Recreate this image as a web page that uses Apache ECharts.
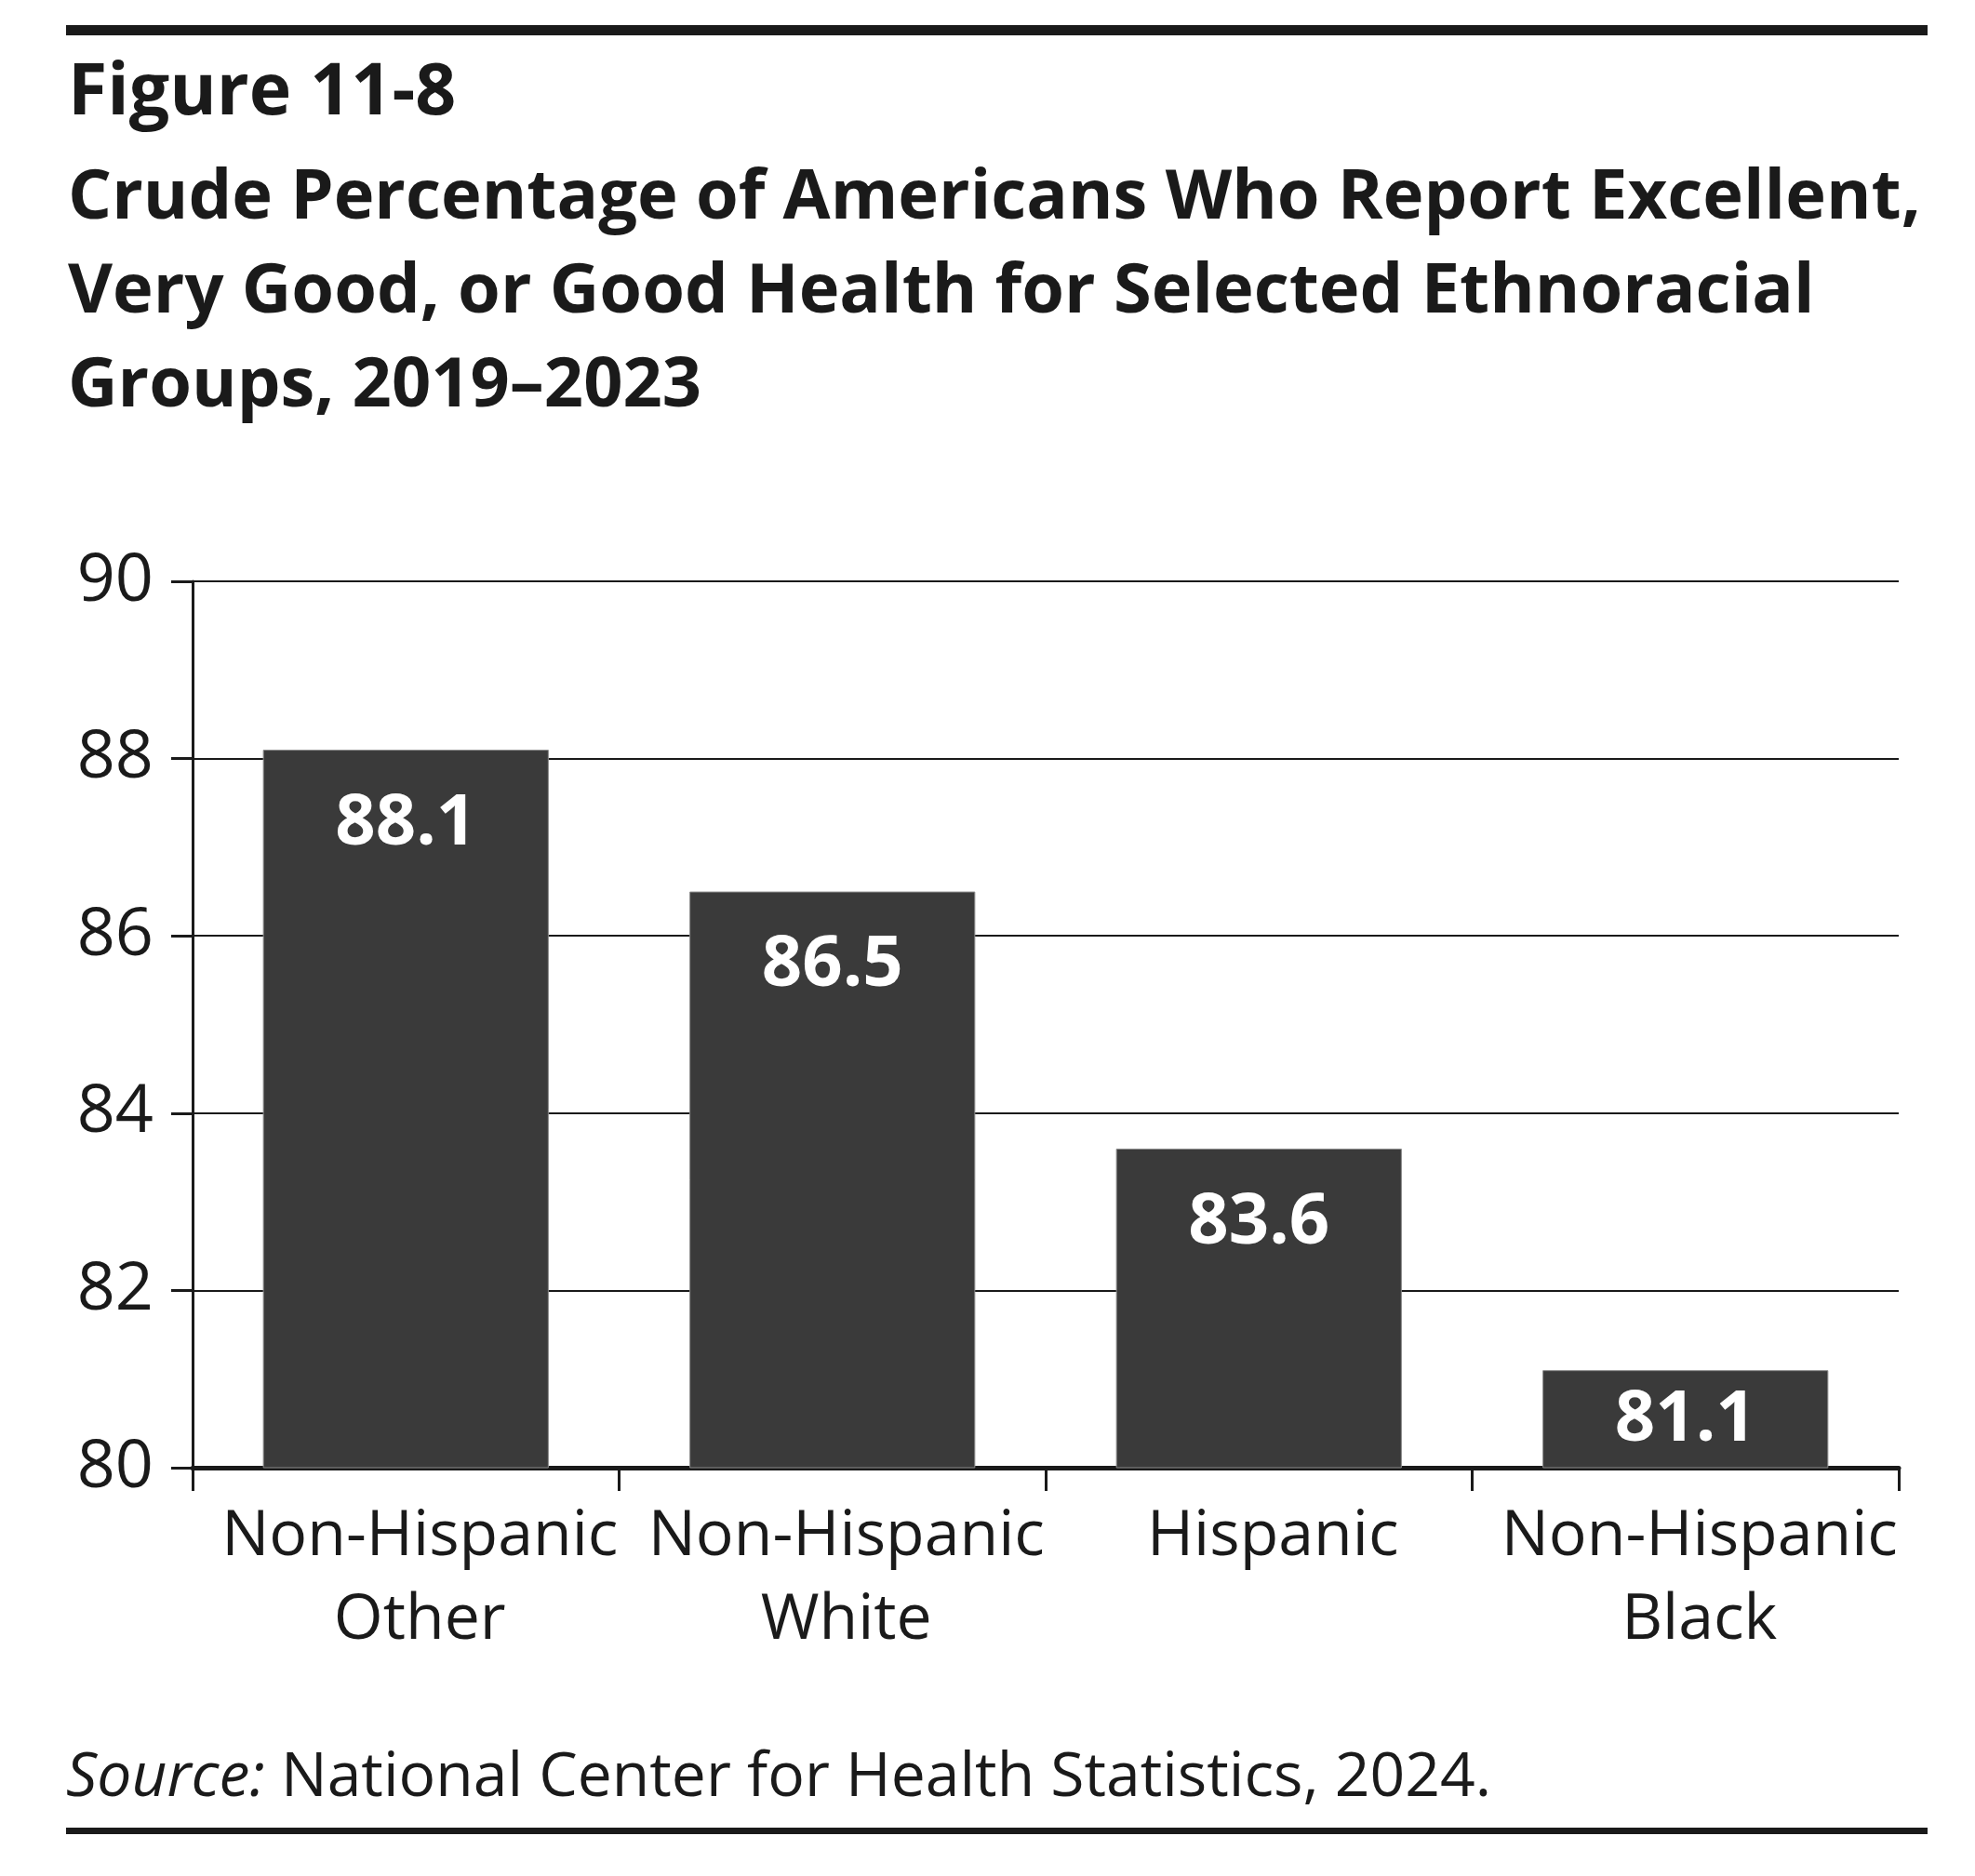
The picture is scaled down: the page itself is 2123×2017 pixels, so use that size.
<!DOCTYPE html>
<html>
<head>
<meta charset="utf-8">
<script src="https://cdn.jsdelivr.net/npm/echarts@6/dist/echarts.min.js"></script>
<style>
  html, body { margin: 0; padding: 0; background: #fff; }
  #main { width: 2123px; height: 2017px; }
</style>
</head>
<body>
<div id="main"></div>
<script>
// data
var groups = ['Non-Hispanic\nOther', 'Non-Hispanic\nWhite', 'Hispanic', 'Non-Hispanic\nBlack'];
var pctGood = [88.1, 86.5, 83.6, 81.1];
var yTicks = [80, 82, 84, 86, 88, 90];

var figLabel = 'Figure 11-8';
var figTitle = 'Crude Percentage of Americans Who Report Excellent,\nVery Good, or Good Health for Selected Ethnoracial\nGroups, 2019\u20132023';

var main = document.getElementById('main');
var myChart = echarts.init(main);

// the short last bar gets its label pulled up a bit
var barData = [];
for (var i = 0; i < pctGood.length; i++) {
    var item = { value: pctGood[i] };
    if (i === pctGood.length - 1) {
        item.label = { distance: 16 };
    }
    barData.push(item);
}

var option = {
    animation: false,
    backgroundColor: '#fff',
    textStyle: { fontFamily: 'Open Sans' },
    title: [{
        text: figLabel,
        left: 68,
        top: 58,
        textStyle: { fontFamily: 'Open Sans', fontWeight: 'bold', fontSize: 77, color: '#1a1a1a' }
    }, {
        text: figTitle,
        left: 68,
        top: 158,
        textStyle: { fontFamily: 'Open Sans', fontWeight: 'bold', fontSize: 74, lineHeight: 101, color: '#1a1a1a' }
    }],
    graphic: [
        { type: 'rect', shape: { x: 71, y: 27, width: 2001, height: 11 }, style: { fill: '#1a1a1a' } },
        { type: 'rect', shape: { x: 71, y: 1965, width: 2001, height: 7 }, style: { fill: '#1a1a1a' } },
        {
            type: 'text', left: 71, top: 1879,
            style: {
                text: '{i|Source:} National Center for Health Statistics, 2024.',
                font: '66px "Open Sans"', fill: '#1a1a1a',
                rich: { i: { fontStyle: 'italic', fontSize: 66, fontFamily: 'Open Sans', fill: '#1a1a1a' } }
            }
        }
    ],
    grid: { left: 207, right: 82, top: 625, bottom: 439, containLabel: false },
    xAxis: {
        type: 'category',
        data: groups,
        axisLine: { lineStyle: { color: '#1a1a1a', width: 5 } },
        axisTick: { show: true, length: 25, lineStyle: { color: '#1a1a1a', width: 3 } },
        axisLabel: {
            fontSize: 68, lineHeight: 90, color: '#1a1a1a', margin: 30,
            fontFamily: 'Open Sans', interval: 0, padding: [0, 0, 0, 30]
        }
    },
    yAxis: {
        type: 'value',
        min: yTicks[0],
        max: yTicks[yTicks.length - 1],
        interval: 2,
        axisLine: { show: true, lineStyle: { color: '#1a1a1a', width: 3 } },
        axisTick: { show: true, length: 23, lineStyle: { color: '#1a1a1a', width: 3 } },
        axisLabel: { fontSize: 72, color: '#1a1a1a', margin: 42, fontFamily: 'Open Sans' },
        splitLine: { show: true, lineStyle: { color: '#1a1a1a', width: 2 } }
    },
    series: [{
        type: 'bar',
        data: barData,
        barWidth: '67%',
        itemStyle: { color: '#3a3a3a', borderColor: '#8a8a8a', borderWidth: 1 },
        label: {
            show: true,
            position: 'insideTop',
            distance: 42,
            color: '#fff',
            fontWeight: 'bold',
            fontSize: 76,
            fontFamily: 'Open Sans'
        }
    }]
};
myChart.setOption(option);
</script>
</body>
</html>
